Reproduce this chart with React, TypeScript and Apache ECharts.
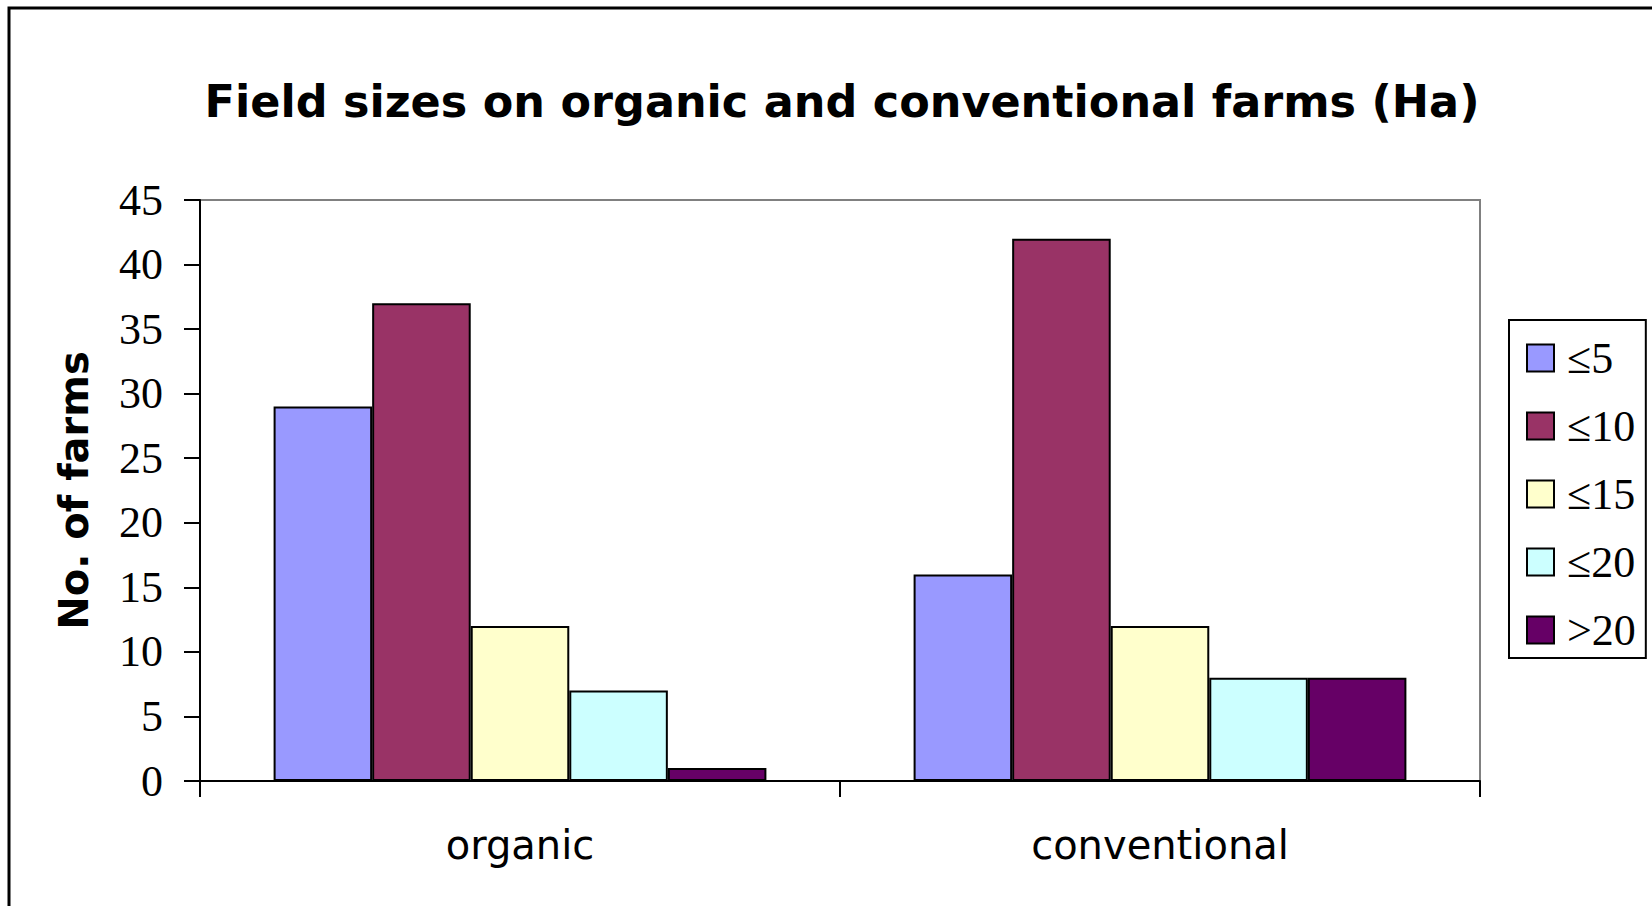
import React, { useEffect, useRef } from "react";
import * as echarts from "echarts";

// Farm types along the category axis
const farmTypes = ["organic", "conventional"];

// Field-size classes (hectares) and the number of farms in each
const sizeClasses = ["≤5", "≤10", "≤15", "≤20", ">20"];
const classColors = ["#9999FF", "#993366", "#FFFFCC", "#CCFFFF", "#660066"];
const farmCounts: number[][] = [
  [29, 16], // ≤5
  [37, 42], // ≤10
  [12, 12], // ≤15
  [7, 8], // ≤20
  [1, 8], // >20
];

const yTicks = { min: 0, max: 45, interval: 5 };

export default function App() {
  const ref = useRef<HTMLDivElement>(null);

  useEffect(() => {
    if (!ref.current) return;
    const chart = echarts.init(ref.current, undefined, { renderer: "svg" });

    const series = sizeClasses.map((name, i) => ({
      name,
      type: "bar" as const,
      data: farmCounts[i],
      barGap: "0%",
      barCategoryGap: "23%",
      itemStyle: { color: classColors[i], borderColor: "#000", borderWidth: 2 },
    }));

    chart.setOption({
      animation: false,
      backgroundColor: "#fff",
      title: {
        text: "Field sizes on organic and conventional farms (Ha)",
        left: 837,
        textAlign: "center",
        top: 74,
        textStyle: {
          fontFamily: "DejaVu Sans",
          fontWeight: "bold",
          fontSize: 44.5,
          color: "#000",
        },
      },
      graphic: [
        {
          type: "rect",
          shape: { x: 9, y: 8, width: 1800, height: 1000 },
          style: { fill: "none", stroke: "#000", lineWidth: 3 },
          silent: true,
        },
      ],
      legend: {
        orient: "vertical",
        left: 1509,
        top: 320,
        width: 137,
        data: sizeClasses,
        icon: "rect",
        itemWidth: 27,
        itemHeight: 27,
        itemGap: 24,
        padding: [16, 10, 6, 17],
        borderColor: "#000",
        borderWidth: 2,
        itemStyle: { borderColor: "#000", borderWidth: 2 },
        textStyle: {
          fontFamily: "Liberation Serif",
          fontSize: 44,
          color: "#000",
          padding: [0, 0, 0, 8],
        },
      },
      grid: {
        left: 200,
        top: 200,
        right: 172,
        bottom: 125,
        show: true,
        borderColor: "#808080",
        borderWidth: 2,
        backgroundColor: "#fff",
      },
      xAxis: {
        type: "category",
        data: farmTypes,
        axisLine: { lineStyle: { color: "#000", width: 2 } },
        axisTick: { show: true, length: 16, lineStyle: { color: "#000", width: 2 } },
        axisLabel: {
          fontFamily: "DejaVu Sans",
          fontSize: 40,
          color: "#000",
          margin: 44,
        },
      },
      yAxis: {
        type: "value",
        min: yTicks.min,
        max: yTicks.max,
        interval: yTicks.interval,
        name: "No. of farms",
        nameLocation: "middle",
        nameRotate: 90,
        nameGap: 106,
        nameTextStyle: {
          fontFamily: "DejaVu Sans",
          fontWeight: "bold",
          fontSize: 40,
          color: "#000",
        },
        splitLine: { show: false },
        axisLine: { show: true, lineStyle: { color: "#000", width: 2 } },
        axisTick: { show: true, length: 16, lineStyle: { color: "#000", width: 2 } },
        axisLabel: {
          fontFamily: "Liberation Serif",
          fontSize: 44,
          color: "#000",
          margin: 37,
        },
      },
      series,
    });

    return () => chart.dispose();
  }, []);

  return (
    <div
      ref={ref}
      style={{ position: "fixed", left: 0, top: 0, width: 1652, height: 906 }}
    />
  );
}
